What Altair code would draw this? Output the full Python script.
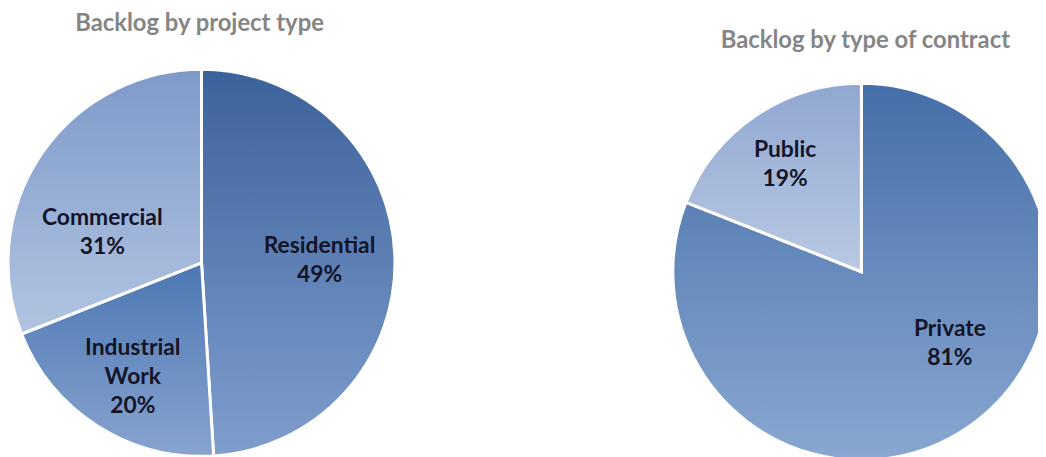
import math
import altair as alt
import pandas as pd

titles = ["Backlog by project type", "Backlog by type of contract"]
project_types = ["Residential", "Industrial Work", "Commercial"]
project_values = [49, 20, 31]
contract_types = ["Private", "Public"]
contract_values = [81, 19]

project_df = pd.DataFrame({"category": project_types, "value": project_values,
                           "order": list(range(len(project_types)))})
contract_df = pd.DataFrame({"category": contract_types, "value": contract_values,
                            "order": list(range(len(contract_types)))})

theta_scale = alt.Scale(domain=[0, 100], range=[0, 2 * math.pi])
FONT = "Lato"


def grad(c0, c1):
    return alt.LinearGradient(
        gradient="linear",
        stops=[alt.GradientStop(color=c0, offset=0), alt.GradientStop(color=c1, offset=1)],
        x1=0, x2=0, y1=0, y2=1,
    )


def pie(df, cx, cy, r, styles):
    base = (
        alt.Chart(df)
        .transform_window(cum="sum(value)", sort=[alt.SortField("order")], frame=[None, 0])
        .transform_calculate(
            start="datum.cum - datum.value",
            mid="datum.cum - datum.value / 2",
            label="datum.category + ' ' + datum.value + '%'",
        )
    )
    layers = []
    for cat, (c0, c1, lr, dx, dy) in styles.items():
        sub = base.transform_filter(alt.datum.category == cat)
        layers.append(
            sub.mark_arc(radius=r, stroke="white", strokeWidth=3, fill=grad(c0, c1)).encode(
                theta=alt.Theta("start:Q", scale=theta_scale),
                theta2="cum:Q",
                x=alt.value(cx),
                y=alt.value(cy),
            )
        )
    for cat, (c0, c1, lr, dx, dy) in styles.items():
        sub = base.transform_filter(alt.datum.category == cat)
        layers.append(
            sub.mark_text(
                radius=lr, dx=dx, dy=dy, lineBreak=" ", lineHeight=29,
                font=FONT, fontSize=23, fontWeight="bold", color="#141428",
                align="center", baseline="middle",
            ).encode(
                theta=alt.Theta("mid:Q", scale=theta_scale),
                text="label:N",
                x=alt.value(cx),
                y=alt.value(cy),
            )
        )
    return layers


left = pie(project_df, 195, 255, 195, {
    "Residential": ("#3c629b", "#7f9ecd", 117, 2, -13),
    "Industrial Work": ("#4c77b3", "#88a4cf", 133, 2, -26),
    "Commercial": ("#7e9aca", "#b2c4e1", 110, -9, 17),
})
right = pie(contract_df, 860, 264, 190, {
    "Private": ("#456fa9", "#89a7d0", 100, 33, -25),
    "Public": ("#90a7d1", "#b9c9e3", 135, -1, -11),
})

title_df = pd.DataFrame({"title": titles, "idx": [0, 1]})
title_left = alt.Chart(title_df).transform_filter(alt.datum.idx == 0).mark_text(
    font=FONT, fontSize=24, fontWeight="bold", color="#858585", align="center", baseline="middle"
).encode(text="title:N", x=alt.value(193), y=alt.value(14))
title_right = alt.Chart(title_df).transform_filter(alt.datum.idx == 1).mark_text(
    font=FONT, fontSize=24, fontWeight="bold", color="#858585", align="center", baseline="middle"
).encode(text="title:N", x=alt.value(864), y=alt.value(32))

chart = alt.layer(*left, *right, title_left, title_right).properties(
    width=1038, height=449, autosize=alt.AutoSizeParams(type="none"), padding=0
).configure_view(stroke=None)

chart.save("out.html", embed_options={"renderer": "svg", "actions": False})
